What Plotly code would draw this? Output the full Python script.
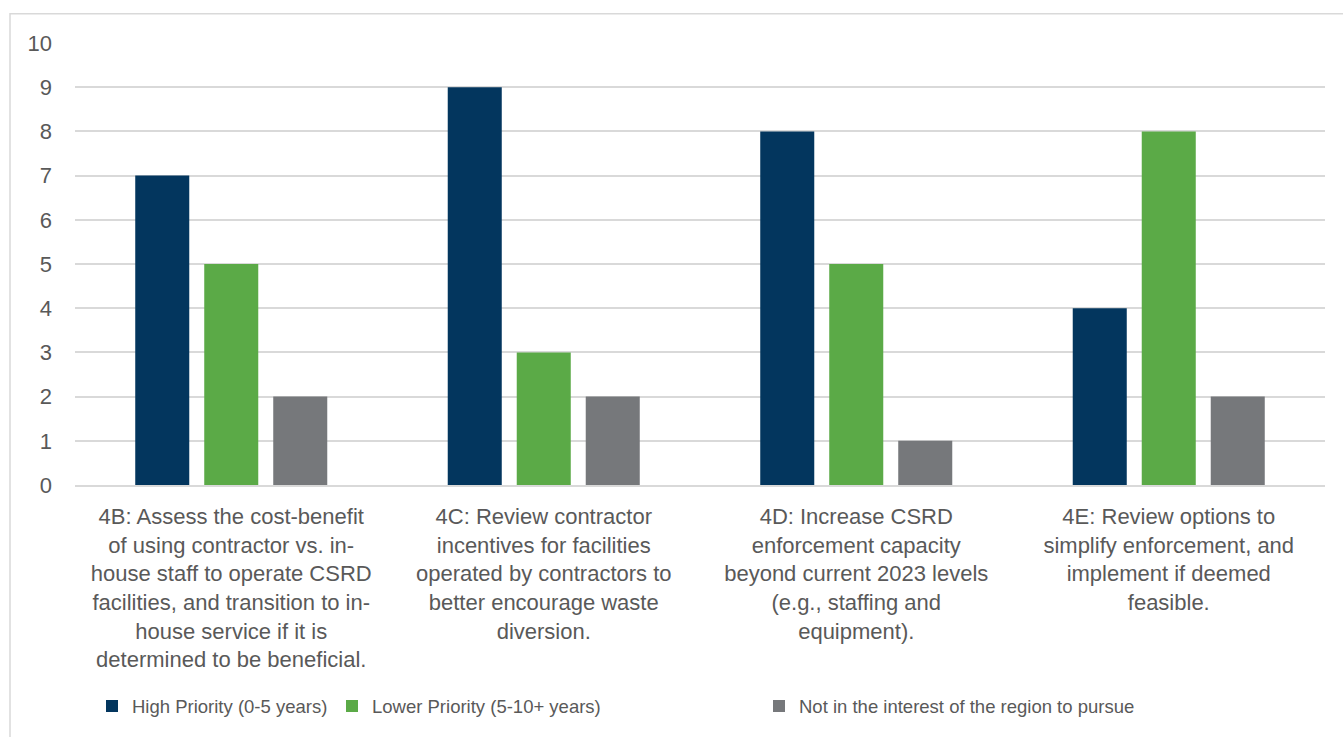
import plotly.graph_objects as go

categories = [
    "4B: Assess the cost-benefit<br>of using contractor vs. in-<br>house staff to operate CSRD<br>facilities, and transition to in-<br>house service if it is<br>determined to be beneficial.",
    "4C: Review contractor<br>incentives for facilities<br>operated by contractors to<br>better encourage waste<br>diversion.",
    "4D: Increase CSRD<br>enforcement capacity<br>beyond current 2023 levels<br>(e.g., staffing and<br>equipment).",
    "4E: Review options to<br>simplify enforcement, and<br>implement if deemed<br>feasible.",
]
series_names = [
    "High Priority (0-5 years)",
    "Lower Priority (5-10+ years)",
    "Not in the interest of the region to pursue",
]
high_priority = [7, 9, 8, 4]
lower_priority = [5, 3, 5, 8]
not_interest = [2, 2, 1, 2]
y_ticks = [0, 1, 2, 3, 4, 5, 6, 7, 8, 9, 10]

colors = ["#03365E", "#5BAA47", "#76787B"]
values = [high_priority, lower_priority, not_interest]
legend_ids = ["legend", "legend2", "legend3"]

W, H = 1343, 737
ML, MR, MT, MB = 75, 18, 43, 247
PW = W - ML - MR
PH = H - MT - MB


def px_x(p):
    return (p - ML) / PW


def px_y(p):
    return (H - MB - p) / PH


fig = go.Figure()
for name, vals, col, lg in zip(series_names, values, colors, legend_ids):
    fig.add_trace(go.Bar(x=categories, y=vals, name=name, marker_color=col,
                         marker_line_width=0, legend=lg, showlegend=True))

text_col = "#595959"
legend_font = dict(family="Liberation Sans, Arial", size=18.5, color=text_col)
legend_common = dict(orientation="h", yanchor="middle", xanchor="left", y=px_y(714),
                     font=legend_font, bgcolor="rgba(0,0,0,0)", borderwidth=0,
                     visible=True)

fig.update_layout(
    width=W, height=H,
    showlegend=True,
    margin=dict(l=ML, r=MR, t=MT, b=MB, pad=0),
    paper_bgcolor="white", plot_bgcolor="white",
    barmode="group", bargap=0.3376, bargroupgap=0.217,
    font=dict(family="Liberation Sans, Arial", color=text_col),
    legend=dict(x=px_x(92), **legend_common),
    legend2=dict(x=px_x(332), **legend_common),
    legend3=dict(x=px_x(759), **legend_common),
    xaxis=dict(showline=True, linecolor="#D9D9D9", linewidth=1.5,
               tickfont=dict(size=22, color=text_col), ticks="",
               ticklabelstandoff=11, showgrid=False),
    yaxis=dict(range=[0, 10], tickvals=y_ticks, showgrid=True, gridcolor="#D9D9D9",
               gridwidth=1.5, zeroline=False, showline=False, ticks="",
               tickfont=dict(size=22, color=text_col), ticklabelstandoff=22),
    shapes=[dict(type="rect", xref="paper", yref="paper",
                 x0=px_x(10), x1=px_x(1360), y0=px_y(760), y1=px_y(13.5),
                 line=dict(color="#D9D9D9", width=1.5), fillcolor="rgba(0,0,0,0)",
                 layer="below")],
)

fig.write_html("out.html")
